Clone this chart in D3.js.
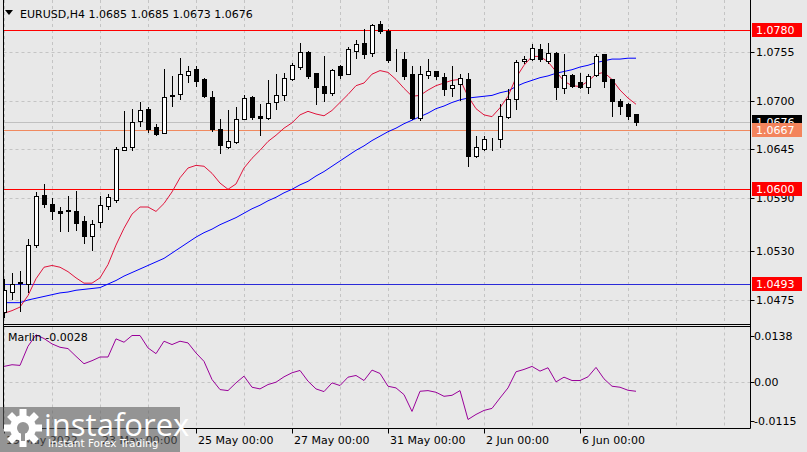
<!DOCTYPE html>
<html><head><meta charset="utf-8">
<script src="https://cdn.jsdelivr.net/npm/d3@7/dist/d3.min.js"></script>
<style>
html,body{margin:0;padding:0;background:#e8e8e8;}
svg{display:block;font-family:"DejaVu Sans",sans-serif;}
</style></head>
<body>
<svg id="c" width="807" height="452"></svg>
<script>
const symbolTitle = "EURUSD,H4";
const headerQuote = ["1.0685","1.0685","1.0673","1.0676"];
const opens  = [1.0461,1.0484,1.0494,1.0493,1.0537,1.0594,1.0583,1.0576,1.0575,1.0575,1.0564,1.0547,1.0563,1.0581,1.0588,1.0644,1.0648,1.0677,1.0691,1.0670,1.0663,1.0705,1.0708,1.0729,1.0736,1.0724,1.0704,1.0668,1.0648,1.0653,1.0679,1.0704,1.0683,1.0680,1.0698,1.0706,1.0724,1.0738,1.0755,1.0731,1.0717,1.0709,1.0739,1.0730,1.0756,1.0765,1.0754,1.0787,1.0779,1.0745,1.0747,1.0730,1.0680,1.0729,1.0733,1.0727,1.0714,1.0719,1.0725,1.0638,1.0646,1.0657,1.0657,1.0682,1.0702,1.0745,1.0747,1.0758,1.0745,1.0754,1.0714,1.0729,1.0721,1.0715,1.0729,1.0753,1.0724,1.0700,1.0696,1.0685];
const highs  = [1.0499,1.0505,1.0508,1.0544,1.0597,1.0606,1.0590,1.0580,1.0592,1.0598,1.0570,1.0565,1.0592,1.0595,1.0648,1.0688,1.0691,1.0698,1.0693,1.0674,1.0736,1.0728,1.0748,1.0739,1.0739,1.0726,1.0711,1.0679,1.0690,1.0693,1.0707,1.0705,1.0696,1.0723,1.0730,1.0731,1.0743,1.0765,1.0756,1.0731,1.0750,1.0736,1.0740,1.0761,1.0769,1.0781,1.0787,1.0790,1.0781,1.0758,1.0755,1.0739,1.0739,1.0747,1.0734,1.0731,1.0739,1.0730,1.0731,1.0660,1.0660,1.0658,1.0696,1.0713,1.0746,1.0750,1.0764,1.0764,1.0765,1.0755,1.0753,1.0730,1.0731,1.0730,1.0753,1.0753,1.0725,1.0702,1.0697,1.0685];
const lows   = [1.0456,1.0476,1.0463,1.0484,1.0535,1.0580,1.0566,1.0553,1.0553,1.0554,1.0539,1.0531,1.0557,1.0578,1.0586,1.0644,1.0644,1.0671,1.0665,1.0661,1.0663,1.0694,1.0702,1.0721,1.0717,1.0704,1.0666,1.0641,1.0647,1.0652,1.0679,1.0679,1.0661,1.0679,1.0691,1.0701,1.0723,1.0736,1.0726,1.0696,1.0700,1.0706,1.0726,1.0730,1.0748,1.0748,1.0750,1.0777,1.0744,1.0734,1.0725,1.0679,1.0678,1.0726,1.0725,1.0707,1.0705,1.0701,1.0626,1.0636,1.0644,1.0644,1.0648,1.0680,1.0691,1.0743,1.0746,1.0745,1.0743,1.0702,1.0709,1.0716,1.0714,1.0709,1.0728,1.0715,1.0683,1.0685,1.0679,1.0673];
const closes = [1.0486,1.0493,1.0495,1.0537,1.0592,1.0583,1.0575,1.0573,1.0577,1.0562,1.0547,1.0561,1.0582,1.0591,1.0645,1.0648,1.0676,1.0690,1.0668,1.0662,1.0704,1.0707,1.0730,1.0734,1.0722,1.0705,1.0668,1.0650,1.0655,1.0679,1.0703,1.0682,1.0681,1.0697,1.0706,1.0726,1.0740,1.0755,1.0728,1.0715,1.0709,1.0735,1.0729,1.0758,1.0764,1.0753,1.0786,1.0779,1.0746,1.0745,1.0728,1.0680,1.0730,1.0734,1.0728,1.0713,1.0718,1.0726,1.0638,1.0648,1.0657,1.0657,1.0683,1.0702,1.0744,1.0747,1.0759,1.0747,1.0754,1.0715,1.0729,1.0717,1.0716,1.0728,1.0751,1.0722,1.0700,1.0694,1.0683,1.0676];
const maFast = [1.0460,1.0463,1.0467,1.0480,1.0499,1.0512,1.0514,1.0512,1.0507,1.0500,1.0494,1.0494,1.0500,1.0515,1.0537,1.0556,1.0572,1.0580,1.0580,1.0575,1.0584,1.0597,1.0613,1.0624,1.0627,1.0626,1.0618,1.0607,1.0600,1.0606,1.0624,1.0635,1.0644,1.0654,1.0661,1.0669,1.0675,1.0684,1.0688,1.0685,1.0683,1.0689,1.0698,1.0707,1.0717,1.0720,1.0730,1.0734,1.0732,1.0724,1.0714,1.0705,1.0706,1.0712,1.0717,1.0720,1.0723,1.0724,1.0705,1.0691,1.0684,1.0682,1.0692,1.0705,1.0726,1.0740,1.0750,1.0750,1.0744,1.0733,1.0722,1.0717,1.0716,1.0722,1.0730,1.0732,1.0724,1.0712,1.0703,1.0696];
const maSlow = [1.0472,1.0472,1.0472,1.0475,1.0477,1.0479,1.0481,1.0483,1.0484,1.0486,1.0487,1.0488,1.0489,1.0493,1.0497,1.0502,1.0506,1.0510,1.0514,1.0518,1.0522,1.0528,1.0534,1.0540,1.0546,1.0551,1.0555,1.0560,1.0564,1.0568,1.0573,1.0578,1.0582,1.0587,1.0591,1.0596,1.0600,1.0605,1.0609,1.0615,1.0620,1.0626,1.0632,1.0638,1.0644,1.0649,1.0655,1.0660,1.0665,1.0669,1.0674,1.0678,1.0682,1.0686,1.0691,1.0694,1.0698,1.0701,1.0703,1.0704,1.0705,1.0706,1.0709,1.0711,1.0716,1.0720,1.0723,1.0726,1.0728,1.0731,1.0733,1.0735,1.0738,1.0740,1.0743,1.0745,1.0747,1.0747,1.0748,1.0748];
const marlin = [0.0046,0.0051,0.0049,0.0106,0.0140,0.0129,0.0113,0.0103,0.0099,0.0076,0.0054,0.0063,0.0074,0.0074,0.0128,0.0118,0.0138,0.0138,0.0101,0.0084,0.0121,0.0111,0.0121,0.0116,0.0086,0.0061,0.0007,-0.0023,-0.0026,-0.0003,0.0017,-0.0016,-0.0021,-0.0008,-0.0001,0.0015,0.0027,0.0034,0.0002,-0.0021,-0.0029,-0.0003,-0.0011,0.0014,0.0019,0.0004,0.0035,0.0025,-0.0013,-0.0018,-0.0038,-0.0088,-0.0028,-0.0026,-0.0031,-0.0043,-0.0040,-0.0026,-0.0112,-0.0097,-0.0085,-0.0079,-0.0048,-0.0018,0.0030,0.0037,0.0046,0.0032,0.0042,0.0000,0.0014,0.0004,0.0004,0.0015,0.0043,0.0009,-0.0013,-0.0016,-0.0025,-0.0028];
const priceTicks = [1.0755,1.0700,1.0645,1.0590,1.0530,1.0475];
const levelLines = [{v:1.0780,c:"#ff0000",box:"#ff0000"},{v:1.0600,c:"#ff0000",box:"#ff0000"},{v:1.0493,c:"#2a2ad8",box:"#ff0000"}];
const bidPrice = 1.0676, markPrice = 1.0667;
const marlinTicks = [0.0138,0.00,-0.0115];
const marlinTickText = ["0.0138","0.00","-0.0115"];
const dayLabels = ["19 May 2022","20 May","23 May 00:00","24 May","25 May 00:00","26 May","27 May 00:00","30 May","31 May 00:00","1 Jun","2 Jun 00:00","3 Jun","6 Jun 00:00","7 Jun","8 Jun","9 Jun"];
const labelShown = [true,false,true,false,true,false,true,false,true,false,true,false,true,false,false,false];
const barsPerDay = 6;

const svg = d3.select("#c");
const W=807,H=452, L=3.5, R=750.5, mainTop=0, mainBot=324.5, indTop=326.5, indBot=428.5;
const x = d3.scaleLinear().domain([0,79]).range([4,636]);
const y = d3.scaleLinear().domain([1.0475,1.0755]).range([300,52]);
const yi = d3.scaleLinear().domain([-0.0115,0.0138]).range([420.5,335.5]);
const gridC="#c4c4c4";

svg.append("rect").attr("width",W).attr("height",H).attr("fill","#e8e8e8");
svg.append("defs").append("clipPath").attr("id","mc").append("rect").attr("x",L).attr("y",mainTop).attr("width",R-L).attr("height",mainBot-mainTop);
svg.select("defs").append("clipPath").attr("id","ic").append("rect").attr("x",L).attr("y",indTop).attr("width",R-L).attr("height",indBot-indTop);

const dayIdx = d3.range(dayLabels.length);
const px = v=>Math.round(v)+0.5;
dayIdx.forEach(d=>{
  const gx = px(x(d*barsPerDay));
  [[mainTop,mainBot],[indTop,indBot]].forEach(([a,b])=>{
    svg.append("line").attr("x1",gx).attr("x2",gx).attr("y1",a).attr("y2",b).attr("stroke",gridC).attr("stroke-dasharray","3,3");
  });
});
priceTicks.forEach(t=>{
  svg.append("line").attr("x1",L).attr("x2",R).attr("y1",px(y(t))).attr("y2",px(y(t))).attr("stroke",gridC).attr("stroke-dasharray","3,3");
});
svg.append("line").attr("x1",L).attr("x2",R).attr("y1",px(yi(0))).attr("y2",px(yi(0))).attr("stroke",gridC).attr("stroke-dasharray","3,3");

svg.append("line").attr("x1",L).attr("x2",R).attr("y1",px(y(bidPrice))).attr("y2",px(y(bidPrice))).attr("stroke","#c0c0c0");
svg.append("line").attr("x1",L).attr("x2",R).attr("y1",px(y(markPrice))).attr("y2",px(y(markPrice))).attr("stroke","#f08a60");
levelLines.forEach(l=>{
  svg.append("line").attr("x1",L).attr("x2",R).attr("y1",px(y(l.v))).attr("y2",px(y(l.v))).attr("stroke",l.c).attr("stroke-width",1);
});

const gm = svg.append("g").attr("clip-path","url(#mc)");
const lineF = d3.line().x((d,i)=>x(i)).y(d=>y(d));
gm.append("path").attr("d",lineF(maSlow)).attr("fill","none").attr("stroke","#0000ff").attr("stroke-width",1);
gm.append("path").attr("d",lineF(maFast)).attr("fill","none").attr("stroke","#e0143c").attr("stroke-width",1);

opens.forEach((o,i)=>{
  const c=closes[i], cx=Math.round(x(i));
  gm.append("line").attr("x1",cx+0.5).attr("x2",cx+0.5).attr("y1",Math.round(y(highs[i]))).attr("y2",Math.round(y(lows[i]))+1).attr("stroke","#000");
  const top=Math.round(y(Math.max(o,c))), bot=Math.round(y(Math.min(o,c)));
  gm.append("rect").attr("x",cx-1.5).attr("y",top+0.5).attr("width",4).attr("height",Math.max(0,bot-top))
    .attr("fill",c>=o?"#ffffff":"#000000").attr("stroke","#000");
});

const gi = svg.append("g").attr("clip-path","url(#ic)");
gi.append("path").attr("d",d3.line().x((d,i)=>x(i)).y(d=>yi(d))(marlin)).attr("fill","none").attr("stroke","#990099").attr("stroke-width",1);

svg.append("line").attr("x1",L).attr("x2",L).attr("y1",0).attr("y2",indBot).attr("stroke","#000");
svg.append("line").attr("x1",R).attr("x2",R).attr("y1",0).attr("y2",indBot).attr("stroke","#000");
svg.append("line").attr("x1",L).attr("x2",R).attr("y1",mainBot).attr("y2",mainBot).attr("stroke","#000");
svg.append("line").attr("x1",L).attr("x2",R).attr("y1",indTop).attr("y2",indTop).attr("stroke","#000");
svg.append("line").attr("x1",L).attr("x2",R).attr("y1",indBot).attr("y2",indBot).attr("stroke","#000");

const fs=11;
priceTicks.forEach(t=>{
  const yy=px(y(t));
  svg.append("line").attr("x1",R).attr("x2",R+4).attr("y1",yy).attr("y2",yy).attr("stroke","#000");
  svg.append("text").attr("x",756).attr("y",yy).attr("dy","0.36em").attr("font-size",fs).attr("fill","#000").text(t.toFixed(4));
});
function box(v,bg,fg){
  const yy=Math.round(y(v));
  svg.append("rect").attr("x",752).attr("y",yy-7).attr("width",50).attr("height",14).attr("fill",bg);
  svg.append("text").attr("x",756).attr("y",yy).attr("dy","0.36em").attr("font-size",fs).attr("fill",fg).text(v.toFixed(4));
}
levelLines.forEach(l=>box(l.v,l.box,"#ffffff"));
box(bidPrice,"#000000","#ffffff");
box(markPrice,"#f3845c","#ffffff");

marlinTicks.forEach((t,k)=>{
  const yy=px(yi(t));
  svg.append("line").attr("x1",R).attr("x2",R+4).attr("y1",yy).attr("y2",yy).attr("stroke","#000");
  svg.append("text").attr("x",754).attr("y",yy).attr("dy","0.36em").attr("font-size",fs).attr("fill","#000").text(marlinTickText[k]);
});

dayIdx.forEach(d=>{
  if(!labelShown[d]) return;
  const gx=px(x(d*barsPerDay));
  svg.append("line").attr("x1",gx).attr("x2",gx).attr("y1",indBot).attr("y2",indBot+5).attr("stroke","#000");
  svg.append("text").attr("x",gx+1.5).attr("y",440).attr("dy","0.36em").attr("font-size",fs).attr("fill","#000").text(dayLabels[d]);
});

svg.append("path").attr("d","M5,10 L13,10 L9,15 Z").attr("fill","#000");
svg.append("text").attr("x",20).attr("y",14).attr("dy","0.36em").attr("font-size",fs).attr("fill","#000")
  .text(symbolTitle+"  "+headerQuote.join(" "));
svg.append("text").attr("x",8).attr("y",337).attr("dy","0.36em").attr("font-size",fs).attr("fill","#000")
  .text("Marlin "+marlin[marlin.length-1].toFixed(4));

const wm = svg.append("g");
wm.append("rect").attr("x",0).attr("y",407).attr("width",180).attr("height",45).attr("fill","#5c5c5c").attr("opacity",0.6);
const gear = wm.append("g").attr("transform","translate(23,428)").attr("fill","#ffffff");
d3.range(8).forEach(k=>{
  gear.append("rect").attr("x",-3.5).attr("y",-19).attr("width",7).attr("height",9).attr("transform",`rotate(${k*45})`);
});
gear.append("circle").attr("r",13);
gear.append("circle").attr("r",6).attr("fill","#959595");
gear.append("rect").attr("x",-2).attr("y",-2).attr("width",4).attr("height",15).attr("fill","#959595");
wm.append("text").attr("x",44).attr("y",436).attr("font-size",31).attr("fill","#ffffff").attr("font-family","'Open Sans',sans-serif").text("instaforex");
wm.append("text").attr("x",48).attr("y",447).attr("font-size",10.5).attr("fill","#ffffff").text("Instant Forex Trading");
</script>
</body></html>
